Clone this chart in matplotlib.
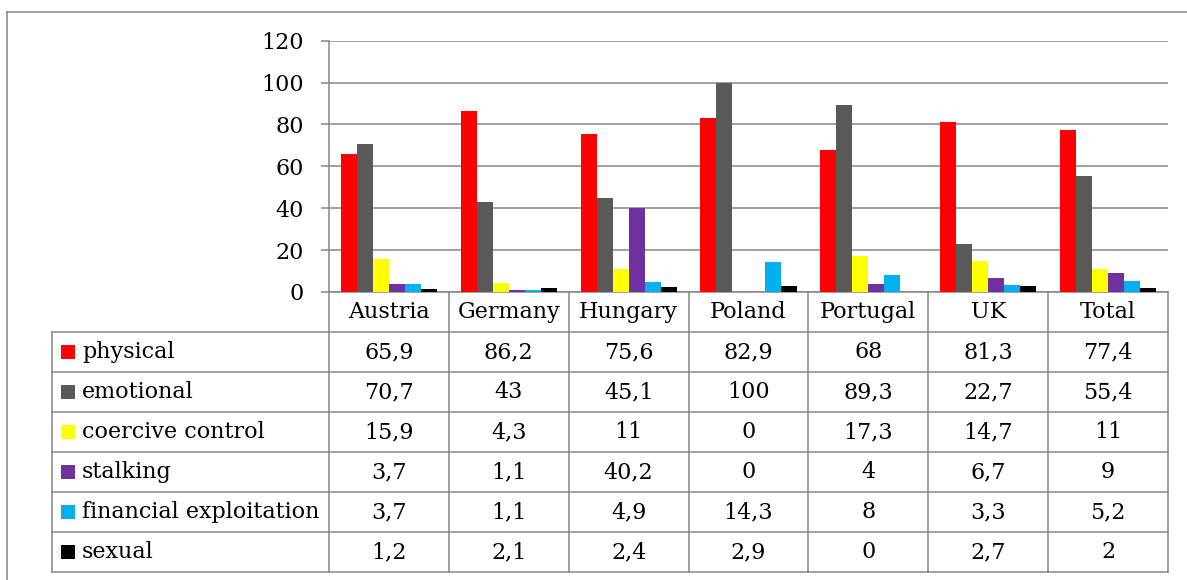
import matplotlib
matplotlib.use("Agg")
import matplotlib.pyplot as plt
from matplotlib.lines import Line2D
from matplotlib.patches import Rectangle
from matplotlib.transforms import blended_transform_factory

categories = ["Austria", "Germany", "Hungary", "Poland", "Portugal", "UK", "Total"]
series_names = ["physical", "emotional", "coercive control", "stalking",
                "financial exploitation", "sexual"]
physical = [65.9, 86.2, 75.6, 82.9, 68, 81.3, 77.4]
emotional = [70.7, 43, 45.1, 100, 89.3, 22.7, 55.4]
coercive = [15.9, 4.3, 11, 0, 17.3, 14.7, 11]
stalking = [3.7, 1.1, 40.2, 0, 4, 6.7, 9]
financial = [3.7, 1.1, 4.9, 14.3, 8, 3.3, 5.2]
sexual = [1.2, 2.1, 2.4, 2.9, 0, 2.7, 2]
series_values = [physical, emotional, coercive, stalking, financial, sexual]
colors = ["#FF0000", "#595959", "#FFFF00", "#7030A0", "#00B0F0", "#000000"]
yticks = [0, 20, 40, 60, 80, 100, 120]

FONT = "DejaVu Serif"
FS = 16
GRID = "#868686"

W, H = 1187, 580
fig = plt.figure(figsize=(W / 100, H / 100), dpi=100)

# pixel layout
L, R, T, B = 329, 1168, 40.7, 292
ax = fig.add_axes([L / W, (H - B) / H, (R - L) / W, (B - T) / H])

n = len(series_values)
bw = 0.1335
x = list(range(len(categories)))
for i, (vals, c) in enumerate(zip(series_values, colors)):
    ax.bar([xi + (i - (n - 1) / 2) * bw for xi in x], vals, width=bw,
           color=c, linewidth=0, zorder=3)

ax.set_xlim(-0.5, len(categories) - 0.5)
ax.set_ylim(0, 120)
ax.set_yticks(yticks)
ax.set_yticklabels([str(v) for v in yticks], fontfamily=FONT, fontsize=FS)
ax.set_xticks([])
ax.yaxis.grid(True, color=GRID, linewidth=1.1, zorder=0)
for s in ["top", "right"]:
    ax.spines[s].set_visible(False)
for s in ["left", "bottom"]:
    ax.spines[s].set_color(GRID)
    ax.spines[s].set_linewidth(1.1)
ax.tick_params(axis="y", length=6, width=1.1, color=GRID, pad=12)

# table geometry (pixel rows)
def ay(ypix):
    return (B - ypix) / (B - T)

def axf(xpix):
    return (xpix - L) / (R - L)

tr = blended_transform_factory(ax.transData, ax.transAxes)
row_top = 332.0
row_h = 40.0
table_bottom = row_top + row_h * len(series_names)
line_kw = dict(color=GRID, linewidth=1.1, clip_on=False, zorder=5)

# header column separators and body vertical lines
for k in range(len(categories) + 1):
    ax.add_line(Line2D([k - 0.5, k - 0.5], [ay(B), ay(table_bottom)],
                       transform=tr, **line_kw))
ax.add_line(Line2D([axf(52), axf(52)], [ay(row_top), ay(table_bottom)],
                   transform=ax.transAxes, **line_kw))
for r in range(len(series_names) + 1):
    yy = ay(row_top + r * row_h)
    ax.add_line(Line2D([axf(52), 1.0], [yy, yy], transform=ax.transAxes, **line_kw))

# header text
for xi, cat in zip(x, categories):
    ax.text(xi, ay((B + row_top) / 2), cat, transform=tr, ha="center", va="center",
            fontfamily=FONT, fontsize=FS, clip_on=False)

def fmt(v):
    if float(v).is_integer():
        return str(int(v))
    return str(v).replace(".", ",")

for r, (name, vals, c) in enumerate(zip(series_names, series_values, colors)):
    yc = row_top + row_h * (r + 0.5)
    # legend key
    ax.add_patch(Rectangle((axf(61), ay(yc + 7)), axf(75) - axf(61), ay(yc - 7) - ay(yc + 7),
                           transform=ax.transAxes, facecolor=c, edgecolor="none",
                           clip_on=False))
    ax.text(axf(82), ay(yc), name, transform=ax.transAxes, ha="left", va="center",
            fontfamily=FONT, fontsize=FS, clip_on=False)
    for xi, v in zip(x, vals):
        ax.text(xi, ay(yc), fmt(v), transform=tr, ha="center", va="center",
                fontfamily=FONT, fontsize=FS, clip_on=False)

# outer chart border (cropped at right/bottom)
fig.add_artist(Line2D([7 / W, 1.0], [1 - 11.5 / H, 1 - 11.5 / H],
                      transform=fig.transFigure, color=GRID, linewidth=1.1))
fig.add_artist(Line2D([7 / W, 7 / W], [1 - 11.5 / H, 0],
                      transform=fig.transFigure, color=GRID, linewidth=1.1))

fig.savefig("out.png", dpi=100)
